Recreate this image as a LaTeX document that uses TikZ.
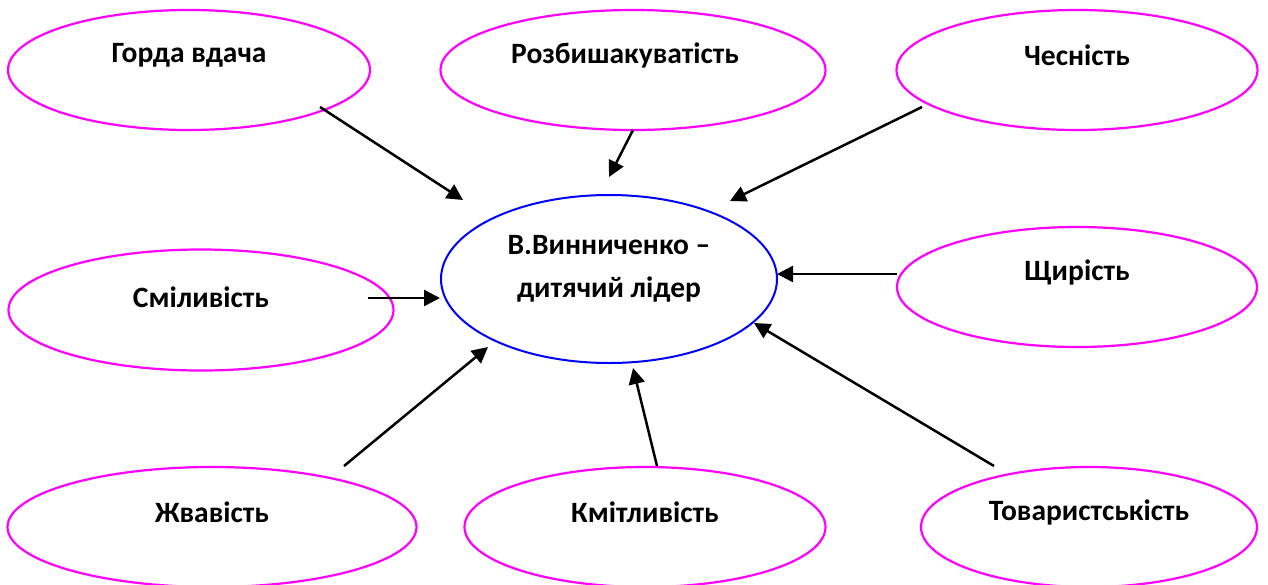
\documentclass[tikz,border=0pt]{standalone}
\usepackage{fontspec}
\setmainfont{Carlito}
\usetikzlibrary{shapes.geometric,arrows.meta,calc}
\definecolor{ovalpink}{RGB}{255,0,255}
\definecolor{ovalblue}{RGB}{0,0,255}
\tikzset{
  oval/.style={ellipse, draw=ovalpink, line width=2.2pt, inner sep=0pt},
  centeroval/.style={ellipse, draw=ovalblue, line width=2pt, inner sep=0pt},
  lbl/.style={font=\fontsize{29.5}{43}\selectfont\bfseries, align=center, inner sep=0pt},
  arr/.style={line width=2.5pt, -{Triangle[length=16pt,width=16pt]}}
}
\begin{document}
\begin{tikzpicture}[x=1pt,y=-1pt]
\useasboundingbox (0,0) rectangle (1268,584);
% ovals
\node[oval, minimum width=362pt, minimum height=120pt] (gorda) at (189,70) {};
\node[oval, minimum width=385pt, minimum height=120pt] (rozb) at (633,70) {};
\node[oval, minimum width=361pt, minimum height=120pt] (chesn) at (1077,70) {};
\node[oval, minimum width=385pt, minimum height=121pt] (smil) at (201,310) {};
\node[centeroval, minimum width=336pt, minimum height=168pt] (lider) at (609,279) {};
\node[oval, minimum width=360pt, minimum height=120pt] (shchyr) at (1077,287) {};
\node[oval, minimum width=409pt, minimum height=120pt] (zhvav) at (212,527) {};
\node[oval, minimum width=361pt, minimum height=120pt] (kmit) at (645,527) {};
\node[oval, minimum width=336pt, minimum height=120pt] (tovar) at (1089,527) {};
% labels
\node[lbl] (tgorda) at ($(gorda)+(0,-15)$) {Горда вдача};
\node[lbl] (trozb) at ($(rozb)+(-8,-15)$) {Розбишакуватість};
\node[lbl] (tchesn) at ($(chesn)+(0,-15)$) {Чесність};
\node[lbl] (tsmil) at ($(smil)+(0,-13)$) {Сміливість};
\node[lbl] (tlider) at ($(lider)+(0,-10)$) {В.Винниченко –\\дитячий лідер};
\node[lbl] (tshchyr) at ($(shchyr)+(0,-15)$) {Щирість};
\node[lbl] (tzhvav) at ($(zhvav)+(0,-15)$) {Жвавість};
\node[lbl] (tkmit) at ($(kmit)+(0,-15)$) {Кмітливість};
\node[lbl] (ttovar) at ($(tovar)+(0,-15)$) {Товаристськість};
% connector ends
\coordinate (s1) at (320,107); \coordinate (e1) at (463,200);
\coordinate (s2) at (633,130); \coordinate (e2) at (609,177);
\coordinate (s3) at (922,107); \coordinate (e3) at (730,201);
\coordinate (s4) at (368,298); \coordinate (e4) at (440,298);
\coordinate (s5) at (897,274); \coordinate (e5) at (777,274);
\coordinate (s6) at (344,466); \coordinate (e6) at (488,347);
\coordinate (s7) at (657,466); \coordinate (e7) at (633,368);
\coordinate (s8) at (994,466); \coordinate (e8) at (754,323);
\draw[arr] (s1) -- (e1);
\draw[arr] (s2) -- (e2);
\draw[arr] (s3) -- (e3);
\draw[arr] (s4) -- (e4);
\draw[arr] (s5) -- (e5);
\draw[arr] (s6) -- (e6);
\draw[arr] (s7) -- (e7);
\draw[arr] (s8) -- (e8);
\end{tikzpicture}
\end{document}
